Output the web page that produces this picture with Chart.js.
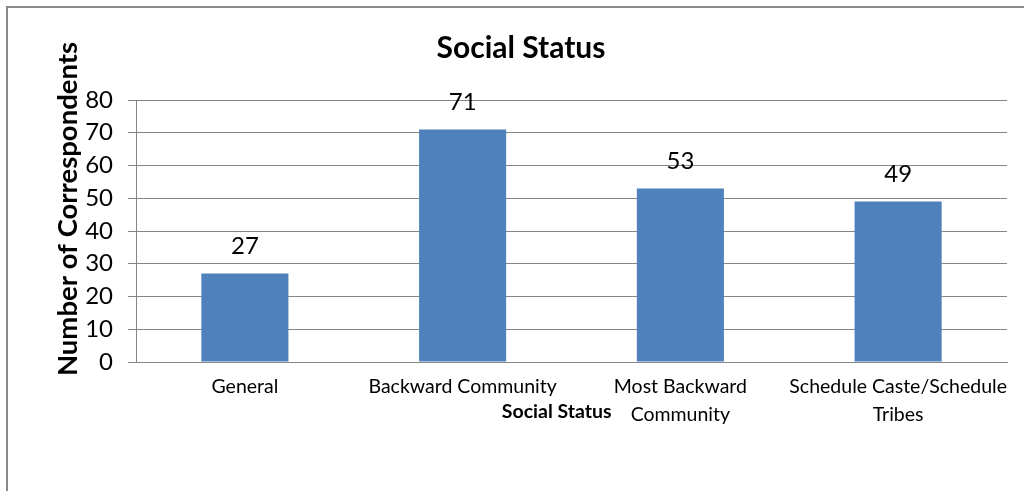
<!DOCTYPE html>
<html>
<head>
<meta charset="utf-8">
<script src="https://cdn.jsdelivr.net/npm/chart.js@4.4.1/dist/chart.umd.min.js"></script>
<style>
    body { margin: 0; background: #fff; overflow: hidden; }
    #marco { position: absolute; left: 6px; top: 6px; width: 1100px; height: 600px; border: 2px solid #8a8a8a; }
    #grafica { position: absolute; left: 0; top: 0; }
</style>
</head>
<body>
<div id="marco"></div>
<canvas id="grafica" width="1024" height="491"></canvas>
<script>
// Categorías y valores
const categorias = ['General', 'Backward Community', ['Most Backward', 'Community'], ['Schedule Caste/Schedule', 'Tribes']];
const encuestados = [27, 71, 53, 49];
const ejeY = { min: 0, max: 80, paso: 10 };

const colorGrid = '#868686';
const fuente = 'Lato';

// Etiquetas de valor sobre cada barra
const etiquetasValor = {
    id: 'etiquetasValor',
    afterDatasetsDraw(chart) {
        const ctx = chart.ctx;
        const meta = chart.getDatasetMeta(0);
        ctx.save();
        ctx.font = '24px ' + fuente;
        ctx.fillStyle = '#000';
        ctx.textAlign = 'center';
        ctx.textBaseline = 'middle';
        meta.data.forEach((bar, i) => {
            ctx.fillText(String(encuestados[i]), bar.x, bar.y - 27);
        });
        ctx.restore();
    }
};

// Títulos de los ejes
const titulosEjes = {
    id: 'titulosEjes',
    afterDraw(chart) {
        const ctx = chart.ctx;
        const area = chart.chartArea;
        ctx.save();
        ctx.fillStyle = '#000';
        ctx.textAlign = 'center';
        ctx.textBaseline = 'middle';
        // eje X
        ctx.font = 'bold 19.5px ' + fuente;
        ctx.fillText('Social Status', area.left + area.width * 0.483, area.bottom + 50);
        // eje Y
        ctx.translate(68, area.top + 109);
        ctx.rotate(-Math.PI / 2);
        ctx.font = 'bold 27.5px ' + fuente;
        ctx.fillText('Number of Correspondents', 0, 0);
        ctx.restore();
    }
};

new Chart(document.getElementById('grafica').getContext('2d'), {
    type: 'bar',
    data: {
        labels: categorias,
        datasets: [{
            data: encuestados,
            backgroundColor: '#4F81BD',
            categoryPercentage: 1,
            barPercentage: 0.4
        }]
    },
    options: {
        responsive: false,
        animation: false,
        devicePixelRatio: 1,
        layout: { padding: { left: 35, right: 17, top: 0, bottom: 0 } },
        plugins: {
            legend: { display: false },
            tooltip: { enabled: false },
            title: {
                display: true,
                text: 'Social Status',
                color: '#000',
                font: { family: fuente, size: 30, weight: 'bold', lineHeight: 1.2 },
                padding: { top: 30, bottom: 34 }
            }
        },
        scales: {
            x: {
                grid: { display: false, drawTicks: false },
                border: { display: true, color: colorGrid, width: 1 },
                ticks: {
                    color: '#000',
                    padding: 11,
                    maxRotation: 0,
                    autoSkip: false,
                    font: { family: fuente, size: 19.5, lineHeight: 1.42 }
                },
                afterFit(scale) { scale.height = 129; }
            },
            y: {
                min: ejeY.min,
                max: ejeY.max,
                grid: { color: colorGrid, tickLength: 8 },
                border: { display: true, color: colorGrid, width: 1 },
                ticks: {
                    stepSize: ejeY.paso,
                    color: '#000',
                    padding: 15,
                    font: { family: fuente, size: 24 }
                },
                afterFit(scale) { scale.width = 101; }
            }
        }
    },
    plugins: [etiquetasValor, titulosEjes]
});
</script>
</body>
</html>
